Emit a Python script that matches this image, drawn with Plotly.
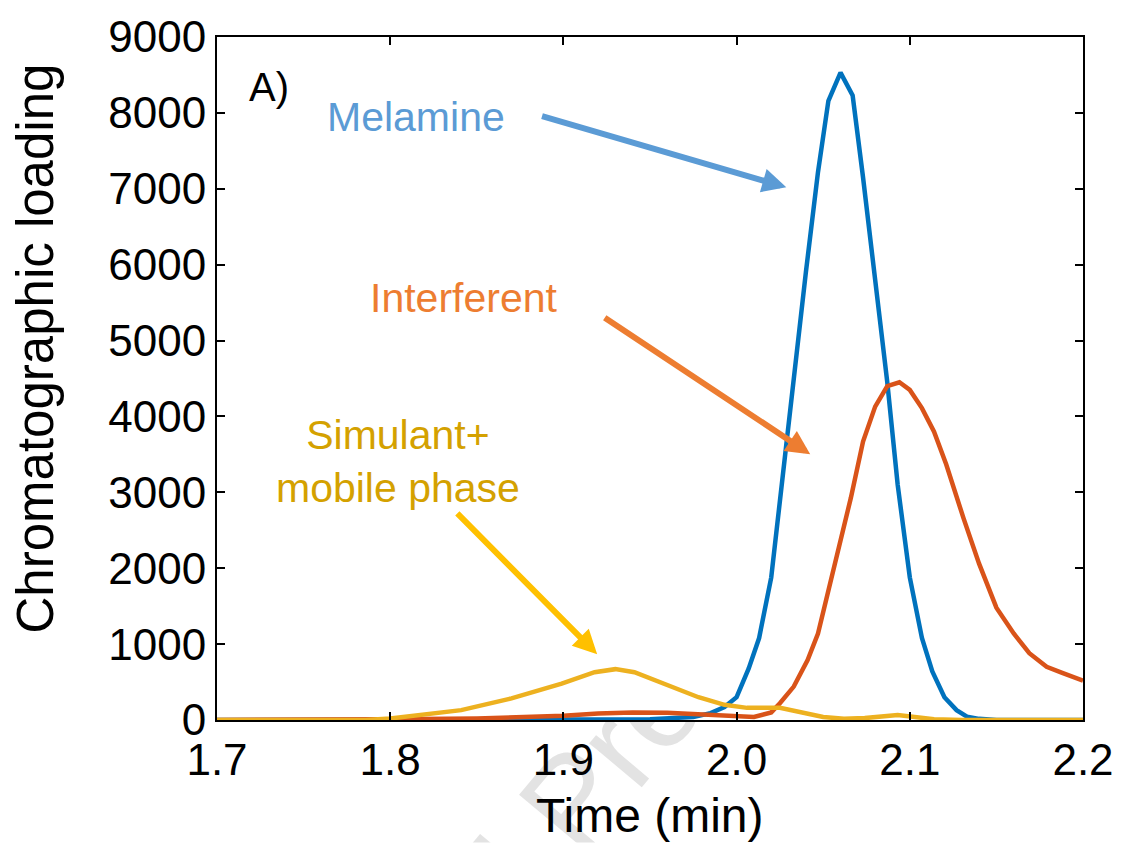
import base64
import plotly.graph_objects as go

# ---------------- data ----------------
mel_t = [1.70, 1.90, 1.95, 1.975, 1.985, 1.993, 2.000, 2.007, 2.013, 2.020, 2.027, 2.033,
         2.040, 2.047, 2.053, 2.060, 2.067, 2.073, 2.080, 2.087, 2.093, 2.100, 2.107,
         2.113, 2.120, 2.127, 2.133, 2.140, 2.150, 2.200]
mel_v = [0, 0, 10, 40, 90, 170, 300, 680, 1080, 1880, 3300, 4400,
         5900, 7220, 8160, 8530, 8230, 7150, 5830, 4450, 3100, 1880, 1080,
         640, 300, 130, 45, 15, 0, 0]

int_t = [1.70, 1.78, 1.80, 1.85, 1.88, 1.90, 1.92, 1.94, 1.96, 1.98, 2.000, 2.010,
         2.020, 2.025, 2.033, 2.041, 2.047, 2.054, 2.060, 2.066, 2.073, 2.080, 2.087,
         2.094, 2.100, 2.107, 2.114, 2.121, 2.131, 2.140, 2.150, 2.160, 2.169, 2.179,
         2.188, 2.200]
int_v = [0, 0, 10, 20, 35, 55, 85, 100, 95, 70, 40, 40,
         100, 220, 440, 790, 1140, 1800, 2320, 2930, 3670, 4130, 4400,
         4450, 4350, 4110, 3800, 3370, 2660, 2060, 1480, 1140, 880, 700,
         620, 520]

sim_t = [1.70, 1.786, 1.800, 1.813, 1.841, 1.870, 1.899, 1.918, 1.930, 1.941, 1.958,
         1.978, 1.993, 2.006, 2.025, 2.035, 2.050, 2.062, 2.074, 2.093, 2.102, 2.114,
         2.130, 2.200]
sim_v = [0, 0, 20, 56, 130, 285, 480, 630, 670, 630, 480,
         300, 200, 160, 160, 110, 40, 15, 25, 65, 40, 10,
         0, 0]

x_ticks = [1.7, 1.8, 1.9, 2.0, 2.1, 2.2]
x_ticklabels = ["1.7", "1.8", "1.9", "2.0", "2.1", "2.2"]
y_ticks = [0, 1000, 2000, 3000, 4000, 5000, 6000, 7000, 8000, 9000]

FONT = "Liberation Sans, Arial, sans-serif"
W, H = 1126, 843
ML, MR, MT, MB = 217, 39, 34, 123
PW, PH = W - ML - MR, H - MT - MB

fig = go.Figure()
fig.add_trace(go.Scatter(x=mel_t, y=mel_v, mode="lines", line=dict(color="#0072BD", width=4.5),
                         name="Melamine", showlegend=False))
fig.add_trace(go.Scatter(x=int_t, y=int_v, mode="lines", line=dict(color="#D95319", width=4.5),
                         name="Interferent", showlegend=False))
fig.add_trace(go.Scatter(x=sim_t, y=sim_v, mode="lines", line=dict(color="#EDB120", width=4.5),
                         name="Simulant+mobile phase", showlegend=False))

axis_common = dict(showline=True, linecolor="black", linewidth=2, mirror="ticks",
                   ticks="inside", ticklen=8, tickwidth=2, tickcolor="black",
                   showgrid=False, zeroline=False,
                   tickfont=dict(family=FONT, size=44, color="black"))
fig.update_xaxes(range=[1.7, 2.2], tickvals=x_ticks, ticktext=x_ticklabels, **axis_common)
fig.update_yaxes(range=[0, 9000], tickvals=y_ticks, **axis_common)

ann = []
# axis titles
ann.append(dict(text="Time (min)", xref="paper", yref="paper", x=0.5, y=-(816 - 720) / PH,
                xanchor="center", yanchor="middle", showarrow=False,
                font=dict(family=FONT, size=48, color="black")))
ann.append(dict(text="Chromatographic loading", xref="paper", yref="paper",
                x=-(ML - 35) / PW, y=(720 - 347) / PH, textangle=-90,
                xanchor="center", yanchor="middle", showarrow=False,
                font=dict(family=FONT, size=51, color="black")))
# panel label and series labels
ann.append(dict(text="A)", x=1.730, y=8344, showarrow=False, xanchor="center", yanchor="middle",
                font=dict(family=FONT, size=40, color="black")))
ann.append(dict(text="Melamine", x=1.815, y=7950, showarrow=False, xanchor="center", yanchor="middle",
                font=dict(family=FONT, size=41, color="#5B9BD5")))
ann.append(dict(text="Interferent", x=1.8425, y=5563, showarrow=False, xanchor="center", yanchor="middle",
                font=dict(family=FONT, size=41, color="#ED7D31")))
ann.append(dict(text="Simulant+<br>mobile phase", x=1.8046, y=3411, showarrow=False,
                xanchor="center", yanchor="middle",
                font=dict(family=FONT, size=41, color="#D4A100")))
# arrows
for (tx, ty, hx, hy, col) in [(1.8868, 7964, 2.0287, 7019, "#5B9BD5"),
                              (1.9230, 5313, 2.0425, 3503, "#ED7D31"),
                              (1.8379, 2742, 1.9195, 866, "#FFC000")]:
    ann.append(dict(text="", x=hx, y=hy, ax=tx, ay=ty, axref="x", ayref="y",
                    showarrow=True, arrowhead=2, arrowsize=0.8, arrowwidth=6,
                    arrowcolor=col, standoff=0))

# faint watermark, hidden behind the plot area (white box over the plot region)
svg = ('<svg xmlns="http://www.w3.org/2000/svg" width="%d" height="%d" viewBox="0 0 %d %d">'
       '<text x="0" y="0" transform="translate(285,1215) rotate(-50)" '
       'font-family="Liberation Sans, Arial" font-size="130" fill="#e3e3e3">Journal Pre-proof</text>'
       '<rect x="%d" y="%d" width="%d" height="%d" fill="white"/>'
       '</svg>') % (W, H, W, H, ML, MT, PW, PH)
src = "data:image/svg+xml;base64," + base64.b64encode(svg.encode()).decode()

fig.update_layout(
    width=W, height=H,
    margin=dict(l=ML, r=MR, t=MT, b=MB),
    paper_bgcolor="white", plot_bgcolor="white",
    annotations=ann,
    images=[dict(source=src, xref="paper", yref="paper", x=-ML / PW, y=1 + MT / PH,
                 sizex=W / PW, sizey=H / PH, xanchor="left", yanchor="top",
                 sizing="stretch", layer="below")],
)

fig.write_html("out.html")
